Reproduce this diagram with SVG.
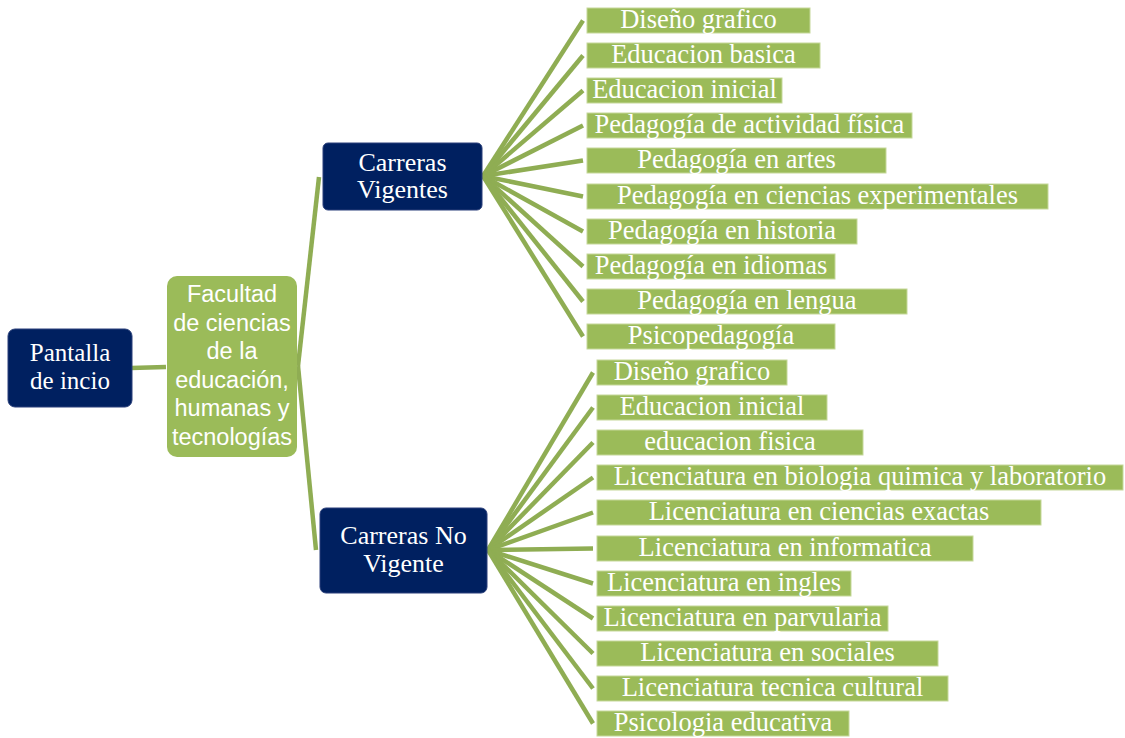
<svg xmlns="http://www.w3.org/2000/svg" width="1125" height="738" viewBox="0 0 1125 738">
<style>
.navy{fill:#002060;stroke:#2a3f7a;stroke-width:1}
.fac{fill:#9bbb59}
.leaf{fill:#9bbb59;stroke:#c5d89a;stroke-width:1}
.tn{font-family:"Liberation Serif","Times New Roman",serif;font-size:26px;fill:#ffffff;text-anchor:middle}
.tp{font-family:"Liberation Serif","Times New Roman",serif;font-size:25px;fill:#ffffff;text-anchor:middle}
.tl{font-family:"Liberation Serif","Times New Roman",serif;font-size:26.5px;fill:#ffffff;text-anchor:middle}
.ts{font-family:"Liberation Sans",Arial,sans-serif;font-size:23.5px;fill:#ffffff;text-anchor:middle}
.c{fill:none;stroke:#8fad53;stroke-width:4.5}
</style>
<rect width="1125" height="738" fill="#ffffff"/>
<g id="connectors">
<path class="c" d="M131 368 L166 367"/>
<path class="c" d="M298 366 L319 177" stroke-width="3.5"/>
<path class="c" d="M298 366 L316 550" stroke-width="3.5"/>
<path class="c" d="M483 176 L583 20.5"/>
<path class="c" d="M483 176 L583 55.5"/>
<path class="c" d="M483 176 L583 90.5"/>
<path class="c" d="M483 176 L583 125.5"/>
<path class="c" d="M483 176 L583 160.5"/>
<path class="c" d="M483 176 L583 196.5"/>
<path class="c" d="M483 176 L583 231.5"/>
<path class="c" d="M483 176 L583 266.5"/>
<path class="c" d="M483 176 L583 301.5"/>
<path class="c" d="M483 176 L583 336.5"/>
<path class="c" d="M488 550 L593 372.5"/>
<path class="c" d="M488 550 L593 407.5"/>
<path class="c" d="M488 550 L593 442.5"/>
<path class="c" d="M488 550 L593 477.5"/>
<path class="c" d="M488 550 L593 512.5"/>
<path class="c" d="M488 550 L593 548.5"/>
<path class="c" d="M488 550 L593 583.5"/>
<path class="c" d="M488 550 L593 618.5"/>
<path class="c" d="M488 550 L593 653.5"/>
<path class="c" d="M488 550 L593 688.5"/>
<path class="c" d="M488 550 L593 723.5"/>
</g>
<g id="pantalla">
<rect class="navy" x="8" y="329" width="124" height="78" rx="7"/>
<text class="tp" x="70" y="361">Pantalla</text>
<text class="tp" x="70" y="389">de incio</text>
</g>
<g id="facultad">
<rect class="fac" x="167" y="276" width="130" height="181" rx="10"/>
<text class="ts" x="232" y="302">Facultad</text>
<text class="ts" x="232" y="330.6">de ciencias</text>
<text class="ts" x="232" y="359.2">de la</text>
<text class="ts" x="232" y="387.8">educación,</text>
<text class="ts" x="232" y="416.4">humanas y</text>
<text class="ts" x="232" y="445">tecnologías</text>
</g>
<g id="vigentes">
<rect class="navy" x="323" y="143" width="159" height="67" rx="5"/>
<text class="tn" x="402.5" y="171">Carreras</text>
<text class="tn" x="402.5" y="198">Vigentes</text>
</g>
<g id="novigente">
<rect class="navy" x="320" y="508" width="167" height="85" rx="6"/>
<text class="tn" x="403.5" y="544">Carreras No</text>
<text class="tn" x="403.5" y="572">Vigente</text>
</g>
<g id="v1"><rect class="leaf" x="587" y="8" width="223" height="25"/><text class="tl" x="698.5" y="28">Diseño grafico</text></g>
<g id="v2"><rect class="leaf" x="587" y="43" width="233" height="25"/><text class="tl" x="703.5" y="63">Educacion basica</text></g>
<g id="v3"><rect class="leaf" x="587" y="78" width="195" height="25"/><text class="tl" x="684.5" y="98">Educacion inicial</text></g>
<g id="v4"><rect class="leaf" x="587" y="113" width="325" height="25"/><text class="tl" x="749.5" y="133">Pedagogía de actividad física</text></g>
<g id="v5"><rect class="leaf" x="587" y="148" width="299" height="25"/><text class="tl" x="736.5" y="168">Pedagogía en artes</text></g>
<g id="v6"><rect class="leaf" x="587" y="184" width="461" height="25"/><text class="tl" x="817.5" y="204">Pedagogía en ciencias experimentales</text></g>
<g id="v7"><rect class="leaf" x="587" y="219" width="270" height="25"/><text class="tl" x="722" y="239">Pedagogía en historia</text></g>
<g id="v8"><rect class="leaf" x="587" y="254" width="248" height="25"/><text class="tl" x="711" y="274">Pedagogía en idiomas</text></g>
<g id="v9"><rect class="leaf" x="587" y="289" width="320" height="25"/><text class="tl" x="747" y="309">Pedagogía en lengua</text></g>
<g id="v10"><rect class="leaf" x="587" y="324" width="248" height="25"/><text class="tl" x="711" y="344">Psicopedagogía</text></g>
<g id="n1"><rect class="leaf" x="597" y="360" width="190" height="25"/><text class="tl" x="692" y="380">Diseño grafico</text></g>
<g id="n2"><rect class="leaf" x="597" y="395" width="230" height="25"/><text class="tl" x="712" y="415">Educacion inicial</text></g>
<g id="n3"><rect class="leaf" x="597" y="430" width="266" height="25"/><text class="tl" x="730" y="450">educacion fisica</text></g>
<g id="n4"><rect class="leaf" x="597" y="465" width="526" height="25"/><text class="tl" x="860" y="485">Licenciatura en biologia quimica y laboratorio</text></g>
<g id="n5"><rect class="leaf" x="597" y="500" width="444" height="25"/><text class="tl" x="819" y="520">Licenciatura en ciencias exactas</text></g>
<g id="n6"><rect class="leaf" x="597" y="536" width="376" height="25"/><text class="tl" x="785" y="556">Licenciatura en informatica</text></g>
<g id="n7"><rect class="leaf" x="597" y="571" width="254" height="25"/><text class="tl" x="724" y="591">Licenciatura en ingles</text></g>
<g id="n8"><rect class="leaf" x="597" y="606" width="291" height="25"/><text class="tl" x="742.5" y="626">Licenciatura en parvularia</text></g>
<g id="n9"><rect class="leaf" x="597" y="641" width="341" height="25"/><text class="tl" x="767.5" y="661">Licenciatura en sociales</text></g>
<g id="n10"><rect class="leaf" x="597" y="676" width="351" height="25"/><text class="tl" x="772.5" y="696">Licenciatura tecnica cultural</text></g>
<g id="n11"><rect class="leaf" x="597" y="711" width="252" height="25"/><text class="tl" x="723" y="731">Psicologia educativa</text></g>
</svg>
